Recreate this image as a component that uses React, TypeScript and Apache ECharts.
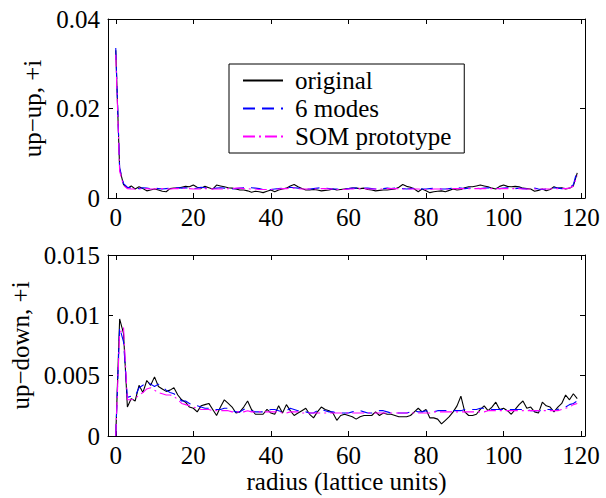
import React, { useEffect, useRef } from "react";
import * as echarts from "echarts";

// radius index (lattice units)
const radius: number[] = Array.from({ length: 120 }, (_, i) => i);
const xTicks = [0, 20, 40, 60, 80, 100, 120];
const seriesNames = ["original", "6 modes", "SOM prototype"];

// up-up, +i
const upUpOriginal = [
  0.0330, 0.0065, 0.0030, 0.0022, 0.0027, 0.0020, 0.0025, 0.0021, 0.0016, 0.0018,
  0.0020, 0.0018, 0.0015, 0.0014, 0.0021, 0.0022, 0.0022, 0.0024, 0.0026, 0.0025,
  0.0029, 0.0024, 0.0022, 0.0026, 0.0023, 0.0020, 0.0029, 0.0027, 0.0025, 0.0023,
  0.0022, 0.0020, 0.0018, 0.0018, 0.0016, 0.0013, 0.0015, 0.0014, 0.0012, 0.0015,
  0.0018, 0.0014, 0.0018, 0.0020, 0.0022, 0.0027, 0.0030, 0.0025, 0.0021, 0.0018,
  0.0018, 0.0019, 0.0018, 0.0016, 0.0017, 0.0018, 0.0020, 0.0018, 0.0019, 0.0020,
  0.0021, 0.0022, 0.0022, 0.0021, 0.0022, 0.0019, 0.0018, 0.0016, 0.0017, 0.0018,
  0.0018, 0.0019, 0.0020, 0.0024, 0.0030, 0.0026, 0.0024, 0.0020, 0.0014, 0.0020,
  0.0016, 0.0012, 0.0014, 0.0015, 0.0016, 0.0014, 0.0017, 0.0020, 0.0018, 0.0019,
  0.0023, 0.0025, 0.0025, 0.0027, 0.0029, 0.0027, 0.0025, 0.0022, 0.0020, 0.0026,
  0.0029, 0.0026, 0.0025, 0.0026, 0.0025, 0.0022, 0.0021, 0.0020, 0.0015, 0.0017,
  0.0020, 0.0016, 0.0019, 0.0025, 0.0022, 0.0023, 0.0020, 0.0022, 0.0027, 0.0056,
];
const upUpModes = [
  0.0335, 0.0068, 0.0032, 0.0024, 0.0022, 0.0022, 0.0021, 0.0023, 0.0022, 0.0021,
  0.0022, 0.0021, 0.0020, 0.0021, 0.0022, 0.0022, 0.0023, 0.0022, 0.0023, 0.0022,
  0.0021, 0.0022, 0.0024, 0.0023, 0.0022, 0.0021, 0.0022, 0.0023, 0.0022, 0.0021,
  0.0020, 0.0021, 0.0022, 0.0023, 0.0024, 0.0023, 0.0022, 0.0021, 0.0019, 0.0018,
  0.0019, 0.0020, 0.0021, 0.0022, 0.0023, 0.0024, 0.0023, 0.0022, 0.0021, 0.0020,
  0.0020, 0.0021, 0.0022, 0.0023, 0.0022, 0.0021, 0.0020, 0.0020, 0.0019, 0.0020,
  0.0021, 0.0022, 0.0022, 0.0023, 0.0022, 0.0022, 0.0021, 0.0020, 0.0020, 0.0021,
  0.0022, 0.0021, 0.0022, 0.0022, 0.0021, 0.0020, 0.0021, 0.0022, 0.0021, 0.0020,
  0.0020, 0.0021, 0.0022, 0.0021, 0.0020, 0.0020, 0.0021, 0.0022, 0.0023, 0.0022,
  0.0021, 0.0022, 0.0023, 0.0022, 0.0021, 0.0022, 0.0023, 0.0022, 0.0022, 0.0021,
  0.0022, 0.0023, 0.0022, 0.0021, 0.0022, 0.0021, 0.0020, 0.0021, 0.0022, 0.0020,
  0.0019, 0.0020, 0.0021, 0.0023, 0.0022, 0.0021, 0.0022, 0.0023, 0.0030, 0.0062,
];
const upUpSom = [
  0.0320, 0.0060, 0.0028, 0.0021, 0.0020, 0.0020, 0.0020, 0.0021, 0.0021, 0.0020,
  0.0020, 0.0021, 0.0021, 0.0020, 0.0020, 0.0021, 0.0021, 0.0022, 0.0021, 0.0021,
  0.0020, 0.0020, 0.0020, 0.0021, 0.0021, 0.0020, 0.0020, 0.0020, 0.0020, 0.0021,
  0.0021, 0.0022, 0.0022, 0.0021, 0.0021, 0.0020, 0.0020, 0.0019, 0.0019, 0.0019,
  0.0019, 0.0020, 0.0020, 0.0021, 0.0021, 0.0022, 0.0022, 0.0021, 0.0020, 0.0020,
  0.0020, 0.0020, 0.0021, 0.0021, 0.0021, 0.0020, 0.0020, 0.0019, 0.0019, 0.0019,
  0.0020, 0.0020, 0.0021, 0.0021, 0.0021, 0.0020, 0.0020, 0.0020, 0.0020, 0.0020,
  0.0021, 0.0021, 0.0021, 0.0021, 0.0020, 0.0020, 0.0020, 0.0020, 0.0020, 0.0019,
  0.0019, 0.0019, 0.0020, 0.0020, 0.0020, 0.0020, 0.0020, 0.0021, 0.0021, 0.0021,
  0.0021, 0.0021, 0.0021, 0.0021, 0.0021, 0.0021, 0.0021, 0.0021, 0.0021, 0.0021,
  0.0021, 0.0021, 0.0021, 0.0021, 0.0021, 0.0020, 0.0020, 0.0020, 0.0020, 0.0020,
  0.0020, 0.0020, 0.0020, 0.0021, 0.0021, 0.0021, 0.0021, 0.0022, 0.0027, 0.0050,
];

// up-down, +i
const upDownOriginal = [
  0.0000, 0.0097, 0.0085, 0.0024, 0.0031, 0.0029, 0.0042, 0.0036, 0.0046, 0.0042,
  0.0049, 0.0041, 0.0039, 0.0037, 0.0038, 0.0040, 0.0034, 0.0030, 0.0028, 0.0024,
  0.0023, 0.0020, 0.0025, 0.0026, 0.0027, 0.0022, 0.0017, 0.0024, 0.0030, 0.0027,
  0.0024, 0.0019, 0.0020, 0.0024, 0.0029, 0.0022, 0.0018, 0.0018, 0.0018, 0.0022,
  0.0019, 0.0018, 0.0025, 0.0019, 0.0026, 0.0021, 0.0017, 0.0019, 0.0021, 0.0023,
  0.0018, 0.0015, 0.0020, 0.0024, 0.0022, 0.0021, 0.0019, 0.0013, 0.0017, 0.0018,
  0.0017, 0.0016, 0.0014, 0.0016, 0.0017, 0.0017, 0.0017, 0.0020, 0.0017, 0.0019,
  0.0018, 0.0018, 0.0017, 0.0016, 0.0016, 0.0016, 0.0017, 0.0020, 0.0023, 0.0020,
  0.0022, 0.0015, 0.0015, 0.0014, 0.0010, 0.0013, 0.0016, 0.0020, 0.0025, 0.0033,
  0.0020, 0.0017, 0.0017, 0.0018, 0.0022, 0.0025, 0.0021, 0.0024, 0.0028, 0.0022,
  0.0023, 0.0021, 0.0018, 0.0022, 0.0026, 0.0029, 0.0023, 0.0024, 0.0020, 0.0019,
  0.0028, 0.0025, 0.0024, 0.0020, 0.0024, 0.0027, 0.0034, 0.0030, 0.0035, 0.0031,
];
const upDownModes = [
  0.0000, 0.0090, 0.0078, 0.0032, 0.0033, 0.0033, 0.0040, 0.0042, 0.0045, 0.0043,
  0.0041, 0.0043, 0.0041, 0.0038, 0.0036, 0.0035, 0.0032, 0.0029, 0.0029, 0.0027,
  0.0025, 0.0025, 0.0024, 0.0023, 0.0023, 0.0022, 0.0022, 0.0022, 0.0023, 0.0023,
  0.0021, 0.0020, 0.0020, 0.0022, 0.0023, 0.0021, 0.0020, 0.0020, 0.0020, 0.0021,
  0.0022, 0.0022, 0.0021, 0.0020, 0.0021, 0.0023, 0.0022, 0.0021, 0.0020, 0.0020,
  0.0019, 0.0019, 0.0021, 0.0022, 0.0021, 0.0020, 0.0020, 0.0019, 0.0019, 0.0019,
  0.0019, 0.0020, 0.0021, 0.0021, 0.0020, 0.0019, 0.0019, 0.0020, 0.0021, 0.0021,
  0.0020, 0.0019, 0.0019, 0.0019, 0.0019, 0.0019, 0.0020, 0.0021, 0.0020, 0.0020,
  0.0021, 0.0020, 0.0020, 0.0021, 0.0021, 0.0021, 0.0021, 0.0021, 0.0021, 0.0021,
  0.0022, 0.0022, 0.0022, 0.0022, 0.0023, 0.0023, 0.0023, 0.0022, 0.0022, 0.0022,
  0.0022, 0.0022, 0.0022, 0.0022, 0.0022, 0.0022, 0.0022, 0.0021, 0.0021, 0.0021,
  0.0021, 0.0022, 0.0022, 0.0021, 0.0022, 0.0023, 0.0024, 0.0026, 0.0027, 0.0029,
];
const upDownSom = [
  0.0000, 0.0085, 0.0090, 0.0030, 0.0030, 0.0031, 0.0034, 0.0036, 0.0039, 0.0040,
  0.0038, 0.0036, 0.0035, 0.0034, 0.0034, 0.0033, 0.0030, 0.0027, 0.0026, 0.0025,
  0.0024, 0.0023, 0.0022, 0.0022, 0.0022, 0.0021, 0.0021, 0.0021, 0.0021, 0.0021,
  0.0020, 0.0020, 0.0020, 0.0020, 0.0021, 0.0020, 0.0020, 0.0020, 0.0020, 0.0020,
  0.0020, 0.0020, 0.0020, 0.0019, 0.0019, 0.0020, 0.0020, 0.0020, 0.0019, 0.0019,
  0.0019, 0.0019, 0.0019, 0.0019, 0.0019, 0.0019, 0.0019, 0.0019, 0.0019, 0.0019,
  0.0019, 0.0019, 0.0019, 0.0019, 0.0019, 0.0019, 0.0019, 0.0019, 0.0019, 0.0019,
  0.0019, 0.0019, 0.0019, 0.0019, 0.0019, 0.0019, 0.0019, 0.0019, 0.0019, 0.0019,
  0.0019, 0.0019, 0.0020, 0.0020, 0.0020, 0.0020, 0.0020, 0.0020, 0.0020, 0.0020,
  0.0020, 0.0020, 0.0020, 0.0020, 0.0020, 0.0020, 0.0021, 0.0021, 0.0021, 0.0021,
  0.0021, 0.0021, 0.0021, 0.0021, 0.0021, 0.0021, 0.0021, 0.0021, 0.0021, 0.0021,
  0.0021, 0.0021, 0.0021, 0.0021, 0.0021, 0.0022, 0.0023, 0.0024, 0.0026, 0.0027,
];

const FONT = "'Liberation Serif', 'Times New Roman', Times, serif";
const FS = 25;

export default function App() {
  const ref = useRef<HTMLDivElement>(null);
  useEffect(() => {
    document.body.style.margin = "0";
    if (!ref.current) return;
    const chart = echarts.init(ref.current, undefined, { renderer: "svg" });
    const pairs = (ys: number[]) => radius.map((x, i) => [x, ys[i]]);
    const black = { color: "#000000", width: 1.1, type: "solid" as const };
    const blue = { color: "#0000ff", width: 1.1, type: [12, 7] as any };
    const mag = { color: "#ff00ff", width: 1.1, type: [12, 4, 2, 4] as any };
    const lineStyles = [black, blue, mag];
    const top = [upUpOriginal, upUpModes, upUpSom];
    const bot = [upDownOriginal, upDownModes, upDownSom];

    const xAxisFor = (gridIndex: number, position: "top" | "bottom", labels: boolean, name?: string) => ({
      type: "value",
      gridIndex,
      position,
      min: -2,
      max: 121,
      name,
      nameLocation: "middle",
      nameGap: 32,
      nameTextStyle: { fontFamily: FONT, fontSize: FS, color: "#000" },
      axisLine: { show: true, onZero: false, lineStyle: { color: "#000", width: 1 } },
      axisTick: { show: true, inside: true, length: 5, customValues: xTicks, lineStyle: { color: "#000" } },
      axisLabel: { show: labels, customValues: xTicks, fontFamily: FONT, fontSize: FS, color: "#000", margin: 7 },
      splitLine: { show: false },
    });
    const yAxisFor = (gridIndex: number, position: "left" | "right", max: number, interval: number, labels: boolean, name?: string) => ({
      type: "value",
      gridIndex,
      position,
      min: 0,
      max,
      interval,
      name,
      nameLocation: "middle",
      nameGap: 62,
      nameTextStyle: { fontFamily: FONT, fontSize: FS, color: "#000" },
      axisLine: { show: true, onZero: false, lineStyle: { color: "#000", width: 1 } },
      axisTick: { show: true, inside: true, length: 5, lineStyle: { color: "#000" } },
      axisLabel: { show: labels, fontFamily: FONT, fontSize: FS, color: "#000", margin: 8 },
      splitLine: { show: false },
    });

    const series: any[] = [];
    [top, bot].forEach((group, g) => {
      group.forEach((ys, k) => {
        series.push({
          type: "line",
          name: seriesNames[k],
          xAxisIndex: g * 2,
          yAxisIndex: g * 2,
          data: pairs(ys),
          symbol: "none",
          showSymbol: false,
          lineStyle: lineStyles[k],
          itemStyle: { color: lineStyles[k].color },
          z: 3 + k,
        });
      });
    });

    chart.setOption({
      animation: false,
      backgroundColor: "#ffffff",
      grid: [
        { left: 108, right: 21, top: 19, height: 179, outerBoundsMode: "none", containLabel: false },
        { left: 108, right: 21, top: 255, height: 181, outerBoundsMode: "none", containLabel: false },
      ],
      xAxis: [
        xAxisFor(0, "bottom", true),
        xAxisFor(0, "top", false),
        xAxisFor(1, "bottom", true, "radius (lattice units)"),
        xAxisFor(1, "top", false),
      ],
      yAxis: [
        yAxisFor(0, "left", 0.04, 0.02, true, "up\u2212up, +i"),
        yAxisFor(0, "right", 0.04, 0.02, false),
        yAxisFor(1, "left", 0.015, 0.005, true, "up\u2212down, +i"),
        yAxisFor(1, "right", 0.015, 0.005, false),
      ],
      legend: {
        orient: "vertical",
        left: 229,
        top: 64,
        padding: [4, 13, 4, 13],
        itemGap: 3,
        itemWidth: 40,
        itemHeight: 14,
        borderColor: "#000",
        borderWidth: 1,
        backgroundColor: "#fff",
        selectedMode: false,
        itemStyle: { opacity: 0, borderWidth: 0 },
        data: seriesNames,
        textStyle: { fontFamily: FONT, fontSize: FS, color: "#000", padding: [0, 0, 0, 7] },
      },
      series,
    });
    return () => chart.dispose();
  }, []);
  return <div ref={ref} style={{ width: 606, height: 498 }} />;
}
